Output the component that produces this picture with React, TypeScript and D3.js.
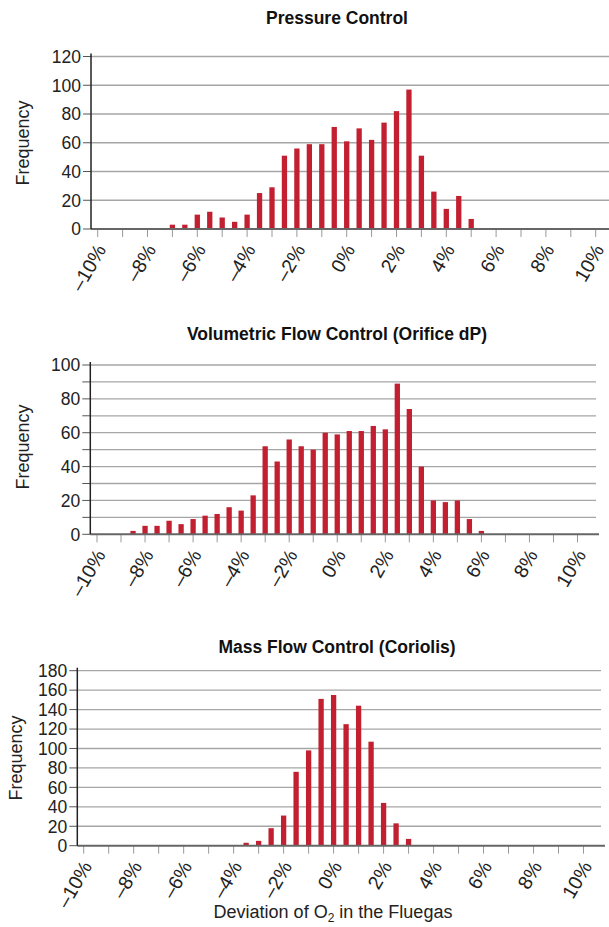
import React from "react";
import * as d3 from "d3";

// ---------- DATA ----------
const xTickValues = [-10, -9, -8, -7, -6, -5, -4, -3, -2, -1, 0, 1, 2, 3, 4, 5, 6, 7, 8, 9, 10];
const xLabelValues = [-10, -8, -6, -4, -2, 0, 2, 4, 6, 8, 10];

const pressureTitle = "Pressure Control";
const pressureBins = [-7, -6.5, -6, -5.5, -5, -4.5, -4, -3.5, -3, -2.5, -2, -1.5, -1, -0.5, 0, 0.5, 1, 1.5, 2, 2.5, 3, 3.5, 4, 4.5, 5];
const pressureFreq = [3, 3, 10, 12, 8, 5, 10, 25, 29, 51, 56, 59, 59, 71, 61, 70, 62, 74, 82, 97, 51, 26, 14, 23, 7];
const pressureYTicks = [0, 20, 40, 60, 80, 100, 120];

const volumetricTitle = "Volumetric Flow Control (Orifice dP)";
const volumetricBins = [-8.5, -8, -7.5, -7, -6.5, -6, -5.5, -5, -4.5, -4, -3.5, -3, -2.5, -2, -1.5, -1, -0.5, 0, 0.5, 1, 1.5, 2, 2.5, 3, 3.5, 4, 4.5, 5, 5.5, 6];
const volumetricFreq = [2, 5, 5, 8, 6, 9, 11, 12, 16, 14, 23, 52, 43, 56, 52, 50, 60, 59, 61, 61, 64, 62, 89, 74, 40, 20, 19, 20, 9, 2];
const volumetricYTicks = [0, 20, 40, 60, 80, 100];
const volumetricGrid = [0, 10, 20, 30, 40, 50, 60, 70, 80, 90, 100];

const massTitle = "Mass Flow Control (Coriolis)";
const massBins = [-3.5, -3, -2.5, -2, -1.5, -1, -0.5, 0, 0.5, 1, 1.5, 2, 2.5, 3];
const massFreq = [3, 5, 18, 31, 76, 98, 151, 155, 125, 144, 107, 44, 23, 7];
const massYTicks = [0, 20, 40, 60, 80, 100, 120, 140, 160, 180];

const yAxisTitle = "Frequency";
const xAxisTitle = "Deviation of O";
const xAxisTitleSub = "2";
const xAxisTitleRest = " in the Fluegas";

const FONT = "'Liberation Sans', Arial, Helvetica, sans-serif";
const BAR = "#c21f30";

function fmt(v: number) {
  return v < 0 ? `\u2013${Math.abs(v)}%` : `${v}%`;
}

type ChartProps = {
  title: string;
  titleY: number;
  bins: number[];
  freq: number[];
  yTicks: number[];
  grid: number[];
  yMax: number;
  axisX: number;
  y0: number;
  yTop: number;
  x0: number;
  x1: number;
  gridRight: number;
  axisRight: number;
  yTitleX: number;
  yTitleY: number;
};

function Histogram(p: ChartProps) {
  const x = d3.scaleLinear().domain([-10, 10]).range([p.x0, p.x1]);
  const y = d3.scaleLinear().domain([0, p.yMax]).range([p.y0, p.yTop]);
  const bw = 5.3;
  return (
    <g fontFamily={FONT}>
      <text x={337} y={p.titleY} textAnchor="middle" fontWeight="bold" fontSize={17.5} fill="#111">
        {p.title}
      </text>
      {p.grid.filter((g) => g > 0).map((g) => (
        <line key={"g" + g} x1={p.axisX} x2={p.gridRight} y1={y(g)} y2={y(g)} stroke="#a6a6a6" strokeWidth={1.3} />
      ))}
      {p.grid.map((g) => (
        <line key={"yt" + g} x1={p.axisX - 8} x2={p.axisX} y1={y(g)} y2={y(g)} stroke="#555" strokeWidth={1} />
      ))}
      {p.yTicks.map((t) => (
        <text key={"yl" + t} x={p.axisX - 10} y={y(t)} dy="0.36em" textAnchor="end" fontSize={17.5} fill="#222">
          {t}
        </text>
      ))}
      {p.bins.map((b, i) => (
        <rect key={"b" + i} x={x(b) - bw / 2} y={y(p.freq[i])} width={bw} height={p.y0 - y(p.freq[i])} fill={BAR} />
      ))}
      {xTickValues.map((t) => (
        <line key={"xt" + t} x1={x(t)} x2={x(t)} y1={p.y0} y2={p.y0 + 8} stroke="#999" strokeWidth={1} />
      ))}
      <line x1={p.axisX} x2={p.axisRight} y1={p.y0} y2={p.y0} stroke="#666" strokeWidth={2} />
      <line x1={p.axisX} x2={p.axisX} y1={p.yTop - 3} y2={p.y0} stroke="#222" strokeWidth={1.5} />
      {xLabelValues.map((t) => (
        <text
          key={"xl" + t}
          transform={`translate(${x(t) + 3},${p.y0 + 17}) rotate(-60)`}
          textAnchor="end"
          dy="0.36em"
          fontSize={19.5}
          fill="#222"
        >
          {fmt(t)}
        </text>
      ))}
      <text
        transform={`translate(${p.yTitleX},${p.yTitleY}) rotate(-90)`}
        textAnchor="middle"
        dy="0.36em"
        fontSize={18}
        fill="#222"
      >
        {yAxisTitle}
      </text>
    </g>
  );
}

export default function App() {
  return (
    <div style={{ position: "absolute", left: 0, top: 0 }}>
      <svg width={609} height={927} style={{ display: "block", background: "#fff" }}>
        <Histogram
          title={pressureTitle}
          titleY={24}
          bins={pressureBins}
          freq={pressureFreq}
          yTicks={pressureYTicks}
          grid={pressureYTicks}
          yMax={120}
          axisX={91}
          y0={229}
          yTop={56.5}
          x0={97.7}
          x1={595.7}
          gridRight={609}
          axisRight={609}
          yTitleX={23}
          yTitleY={143}
        />
        <Histogram
          title={volumetricTitle}
          titleY={340}
          bins={volumetricBins}
          freq={volumetricFreq}
          yTicks={volumetricYTicks}
          grid={volumetricGrid}
          yMax={100}
          axisX={90.3}
          y0={534.3}
          yTop={365}
          x0={97}
          x1={577.5}
          gridRight={596}
          axisRight={599}
          yTitleX={23}
          yTitleY={447}
        />
        <Histogram
          title={massTitle}
          titleY={653}
          bins={massBins}
          freq={massFreq}
          yTicks={massYTicks}
          grid={massYTicks}
          yMax={180}
          axisX={77.3}
          y0={845.7}
          yTop={670.7}
          x0={83.7}
          x1={583.5}
          gridRight={601}
          axisRight={605}
          yTitleX={16}
          yTitleY={758}
        />
        <text x={333} y={918} textAnchor="middle" fontFamily={FONT} fontSize={18} fill="#222">
          {xAxisTitle}
          <tspan fontSize={12} dy={4}>{xAxisTitleSub}</tspan>
          <tspan dy={-4}>{xAxisTitleRest}</tspan>
        </text>
      </svg>
    </div>
  );
}
